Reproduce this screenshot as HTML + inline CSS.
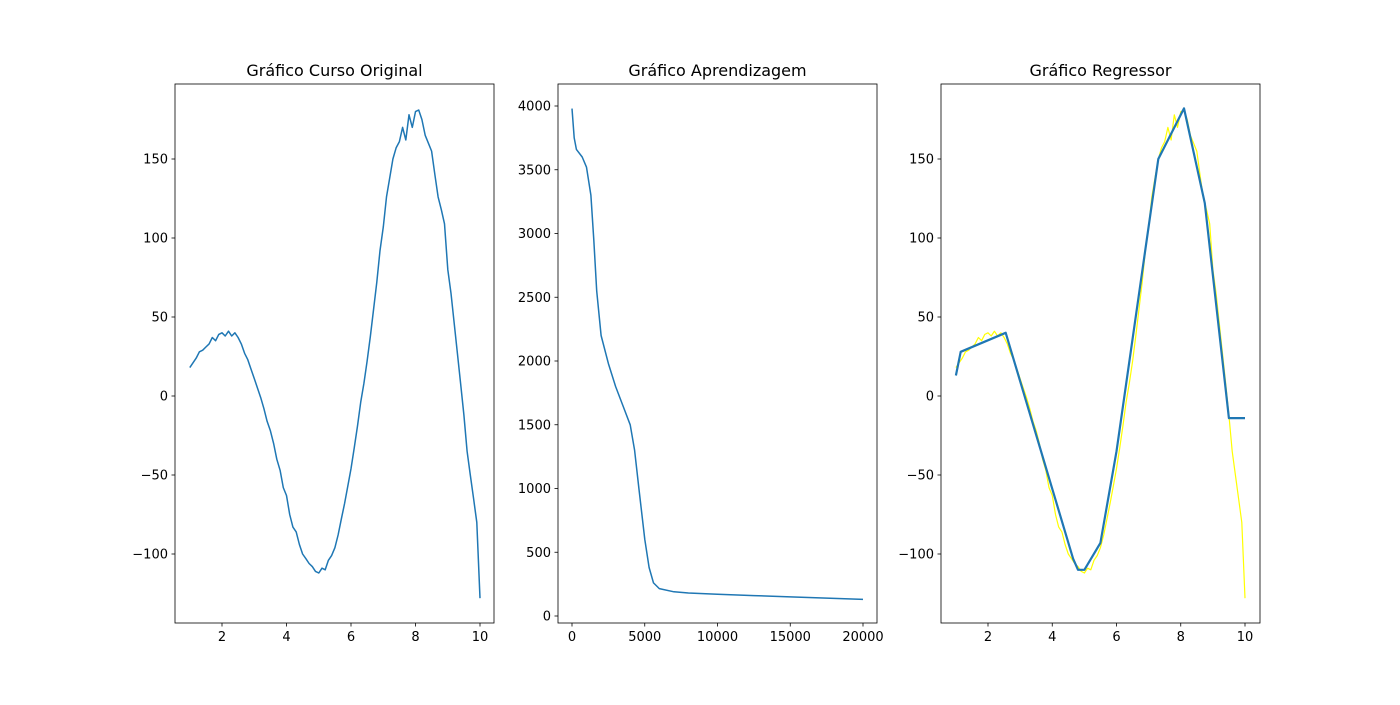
<!DOCTYPE html>
<html><head><meta charset="utf-8"><style>
body{margin:0;background:#fff}
svg text{font-family:"DejaVu Sans","Liberation Sans",sans-serif;fill:#000}
</style></head><body>
<svg id="c" width="1400" height="700"></svg>
<script>
const origX=[1.0,1.1,1.2,1.3,1.4,1.5,1.6,1.7,1.8,1.9,2.0,2.1,2.2,2.3,2.4,2.5,2.6,2.7,2.8,2.9,3.0,3.1,3.2,3.3,3.4,3.5,3.6,3.7,3.8,3.9,4.0,4.1,4.2,4.3,4.4,4.5,4.6,4.7,4.8,4.9,5.0,5.1,5.2,5.3,5.4,5.5,5.6,5.7,5.8,5.9,6.0,6.1,6.2,6.3,6.4,6.5,6.6,6.7,6.8,6.9,7.0,7.1,7.2,7.3,7.4,7.5,7.6,7.7,7.8,7.9,8.0,8.1,8.2,8.3,8.4,8.5,8.6,8.7,8.8,8.9,9.0,9.1,9.2,9.3,9.4,9.5,9.6,9.7,9.8,9.9,10.0];
const origY=[18,21,24,28,29,31,33,37,35,39,40,38,41,38,40,37,33,27,23,17,11,5,-1,-8,-16,-22,-30,-40,-47,-58,-63,-75,-83,-86,-94,-100,-103,-106,-108,-111,-112,-109,-110,-104,-101,-96,-88,-78,-68,-57,-46,-33,-19,-4,8,22,38,55,72,92,107,126,138,150,157,161,170,162,178,170,180,181,175,165,160,155,140,126,118,109,80,65,46,27,8,-12,-35,-50,-65,-80,-128];
const regX=[1.0,1.15,2.55,4.65,4.8,5.0,5.5,6.0,7.3,8.1,8.75,9.5,10.0];
const regY=[13,28,40,-103,-110,-110,-93,-35,150,182,122,-14,-14];
const lossX=[0,150,300,700,1000,1300,1500,1700,2000,2500,3000,3500,4000,4300,4600,5000,5300,5600,6000,7000,8000,10000,12500,15000,17500,20000];
const lossY=[3980,3750,3660,3600,3520,3300,2950,2550,2200,1980,1800,1650,1500,1300,1000,600,380,260,215,190,180,170,160,150,140,130];
const xTicks1=[2,4,6,8,10],yTicks1=[-100,-50,0,50,100,150];
const xTicks2=[0,5000,10000,15000,20000],yTicks2=[0,500,1000,1500,2000,2500,3000,3500,4000];
const svg=document.getElementById('c');const NS='http://www.w3.org/2000/svg';
function mk(t,a,p){const e=document.createElementNS(NS,t);for(const k in a)e.setAttribute(k,a[k]);(p||svg).appendChild(e);return e;}
function lin(d0,d1,r0,r1){return v=>r0+(v-d0)*(r1-r0)/(d1-d0);}
function axes(L,R,T,B,sx,sy,xt,yt,title,name){
  const g=mk('g',{});
  
  
  xt.forEach(v=>{const x=sx(v);mk('line',{x1:x,x2:x,y1:B,y2:B+3.5,stroke:'#000','stroke-width':0.8},g);
    const t=mk('text',{x:x,y:B+18,'text-anchor':'middle','font-size':13},g);t.textContent=v;
    
    });
  yt.forEach(v=>{const y=sy(v);mk('line',{x1:L-3.5,x2:L,y1:y,y2:y,stroke:'#000','stroke-width':0.8},g);
    const t=mk('text',{x:L-7,y:y+4.5,'text-anchor':'end','font-size':13},g);t.textContent=v<0?'\u2212'+(-v):v;
    
    });
  const t=mk('text',{x:(L+R)/2,y:T-8,'text-anchor':'middle','font-size':16},g);t.textContent=title;
  
  
  return g;}
function frame(g,L,R,T,B){const r=mk('rect',{x:L,y:T,width:R-L,height:B-T,fill:'none',stroke:'#000','stroke-width':0.8},g);
  
  }
function path(g,xs,ys,sx,sy,col,w,name){const d=xs.map((x,i)=>(i?'L':'M')+sx(x).toFixed(1)+' '+sy(ys[i]).toFixed(1)).join('');
  const p=mk('path',{d:d,fill:'none',stroke:col,'stroke-width':w,'stroke-linejoin':'round'},g);
  
  }
// panel 1
let sx=lin(2,10,222,480),sy=lin(0,150,396,159);
let g=axes(175,494,84,623,sx,sy,xTicks1,yTicks1,'Gráfico Curso Original','panel-original');
path(g,origX,origY,sx,sy,'#1f77b4',1.5,'original-series');frame(g,175,494,84,623);
// panel 2
let sx2=lin(0,20000,572,863),sy2=lin(0,4000,616,106);
g=axes(558,877,84,623,sx2,sy2,xTicks2,yTicks2,'Gráfico Aprendizagem','panel-learning');
path(g,lossX,lossY,sx2,sy2,'#1f77b4',1.5,'loss-series');frame(g,558,877,84,623);
// panel 3
let sx3=lin(2,10,988,1245);
g=axes(941,1260,84,623,sx3,sy,xTicks1,yTicks1,'Gráfico Regressor','panel-regressor');
path(g,origX,origY,sx3,sy,'#ffff00',1.2,'data-series');
path(g,regX,regY,sx3,sy,'#1f77b4',2.2,'regressor-series');frame(g,941,1260,84,623);
</script>
</body></html>
